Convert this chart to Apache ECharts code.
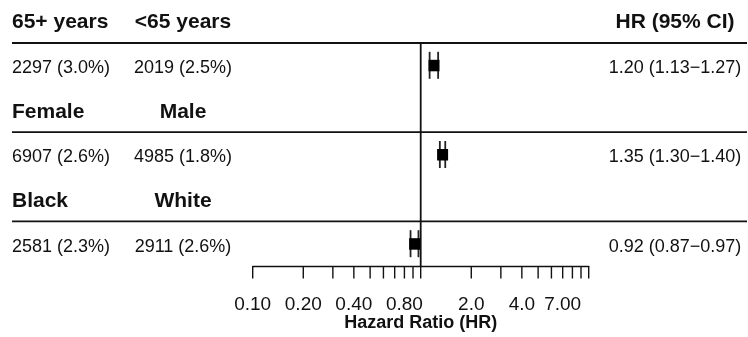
<!DOCTYPE html>
<html>
<head>
<meta charset="utf-8">
<script src="https://cdn.jsdelivr.net/npm/echarts@6/dist/echarts.min.js"></script>
<style>
html,body{margin:0;padding:0;background:#fff;}
#main{width:748px;height:337px;}
</style>
</head>
<body>
<div id="main"></div>
<script>
// ---- data ----
const groupA = ['65+ years', 'Female', 'Black'];
const groupB = ['<65 years', 'Male', 'White'];
const countsA = ['2297 (3.0%)', '6907 (2.6%)', '2581 (2.3%)'];
const countsB = ['2019 (2.5%)', '4985 (1.8%)', '2911 (2.6%)'];
const hr = [1.20, 1.35, 0.92];
const hrLow = [1.13, 1.30, 0.87];
const hrHigh = [1.27, 1.40, 0.97];
const headerHR = 'HR (95% CI)';
const tickValues = [0.1,0.2,0.3,0.4,0.5,0.6,0.7,0.8,0.9,1,2,3,4,5,6,7,8,9,10];
const labelValues = [0.1, 0.2, 0.4, 0.8, 2, 4, 7];
const labelTexts = ['0.10', '0.20', '0.40', '0.80', '2.0', '4.0', '7.00'];
const axisTitle = 'Hazard Ratio (HR)';

const FONT = 'Liberation Sans, Arial, Helvetica, sans-serif';
const INK = '#111';

const chart = echarts.init(document.getElementById('main'));

// row positions: each group has header row (2i) and data row (2i+1)
const textData = [];
for (let i = 0; i < groupA.length; i++) {
  textData.push({ value: [2 * i, 0], t: groupA[i], bold: true, col: 'a' });
  textData.push({ value: [2 * i, 0], t: groupB[i], bold: true, col: 'b' });
  textData.push({ value: [2 * i + 1, 0], t: countsA[i], bold: false, col: 'a' });
  textData.push({ value: [2 * i + 1, 0], t: countsB[i], bold: false, col: 'b' });
  textData.push({ value: [2 * i + 1, 0], t: hr[i].toFixed(2) + ' (' + hrLow[i].toFixed(2) + '\u2212' + hrHigh[i].toFixed(2) + ')', bold: false, col: 'c' });
}
textData.push({ value: [0, 0], t: headerHR, bold: true, col: 'c' });

const colX = { a: 12, b: 183, c: 675 };
const colAlign = { a: 'left', b: 'center', c: 'center' };

const ciData = hr.map((h, i) => [h, hrLow[i], hrHigh[i], 2 * i + 1]);
const sepRows = [0.5, 2.5, 4.5];

chart.setOption({
  animation: false,
  backgroundColor: '#fff',
  grid: { left: 252.7, right: 159.3, top: 43, bottom: 68.7, containLabel: false },
  xAxis: {
    type: 'log', logBase: 10, min: 0.1, max: 10,
    axisLine: { show: true, onZero: false, lineStyle: { color: INK, width: 1.4 } },
    axisTick: { show: false },
    axisLabel: { show: false },
    splitLine: { show: false },
    name: axisTitle, nameLocation: 'middle', nameGap: 48,
    nameTextStyle: { fontFamily: FONT, fontSize: 18, fontWeight: 'bold', color: INK }
  },
  yAxis: { type: 'value', min: 0.5, max: 5.5, inverse: true, show: false },
  series: [
    {
      // separator lines
      type: 'custom', clip: false, silent: true,
      data: sepRows.map(r => [1, r]),
      renderItem: function (params, api) {
        const p = api.coord([1, api.value(1)]);
        return { type: 'line', shape: { x1: 12, y1: p[1], x2: 747, y2: p[1] }, style: { stroke: INK, lineWidth: 1.8 } };
      }
    },
    {
      // reference line at HR = 1
      type: 'custom', clip: false, silent: true,
      data: [[1, 0.5, 5.5]],
      renderItem: function (params, api) {
        const a = api.coord([api.value(0), api.value(1)]);
        const b = api.coord([api.value(0), api.value(2)]);
        return { type: 'line', shape: { x1: a[0], y1: a[1], x2: b[0], y2: b[1] }, style: { stroke: INK, lineWidth: 1.8 } };
      }
    },
    {
      // axis ticks
      type: 'custom', clip: false, silent: true,
      data: tickValues.map(v => [v, 5.5]),
      renderItem: function (params, api) {
        const p = api.coord([api.value(0), api.value(1)]);
        return { type: 'line', shape: { x1: p[0], y1: p[1], x2: p[0], y2: p[1] + 12.5 }, style: { stroke: INK, lineWidth: 1.4 } };
      }
    },
    {
      // axis labels
      type: 'custom', clip: false, silent: true,
      data: labelValues.map((v, i) => ({ value: [v, 5.5], t: labelTexts[i] })),
      renderItem: function (params, api) {
        const p = api.coord([api.value(0), api.value(1)]);
        const t = labelTexts[params.dataIndex];
        return { type: 'text', x: p[0], y: p[1] + 39, style: { text: t, fontFamily: FONT, fontSize: 19, fill: INK, align: 'center', verticalAlign: 'middle' } };
      }
    },
    {
      // CI whiskers + box
      type: 'custom', clip: false, silent: true,
      data: ciData,
      renderItem: function (params, api) {
        const c = api.coord([api.value(0), api.value(3)]);
        const l = api.coord([api.value(1), api.value(3)]);
        const h = api.coord([api.value(2), api.value(3)]);
        const half = 13.5;
        return {
          type: 'group',
          children: [
            { type: 'line', shape: { x1: l[0], y1: c[1] - half, x2: l[0], y2: c[1] + half }, style: { stroke: '#222', lineWidth: 1.8 } },
            { type: 'line', shape: { x1: h[0], y1: c[1] - half, x2: h[0], y2: c[1] + half }, style: { stroke: '#222', lineWidth: 1.8 } },
            { type: 'rect', shape: { x: c[0] - 5.5, y: c[1] - 5.5, width: 11, height: 11.5 }, style: { fill: '#000' } }
          ]
        };
      }
    },
    {
      // table text
      type: 'custom', clip: false, silent: true,
      data: textData,
      renderItem: function (params, api) {
        const d = textData[params.dataIndex];
        const p = api.coord([1, api.value(0)]);
        return {
          type: 'text', x: colX[d.col], y: p[1] + (d.bold ? 2 : 3),
          style: {
            text: d.t, fontFamily: FONT, fontSize: d.bold ? 21 : 18,
            fontWeight: d.bold ? 'bold' : 'normal', fill: INK,
            align: colAlign[d.col], verticalAlign: 'middle'
          }
        };
      }
    }
  ]
});
</script>
</body>
</html>
